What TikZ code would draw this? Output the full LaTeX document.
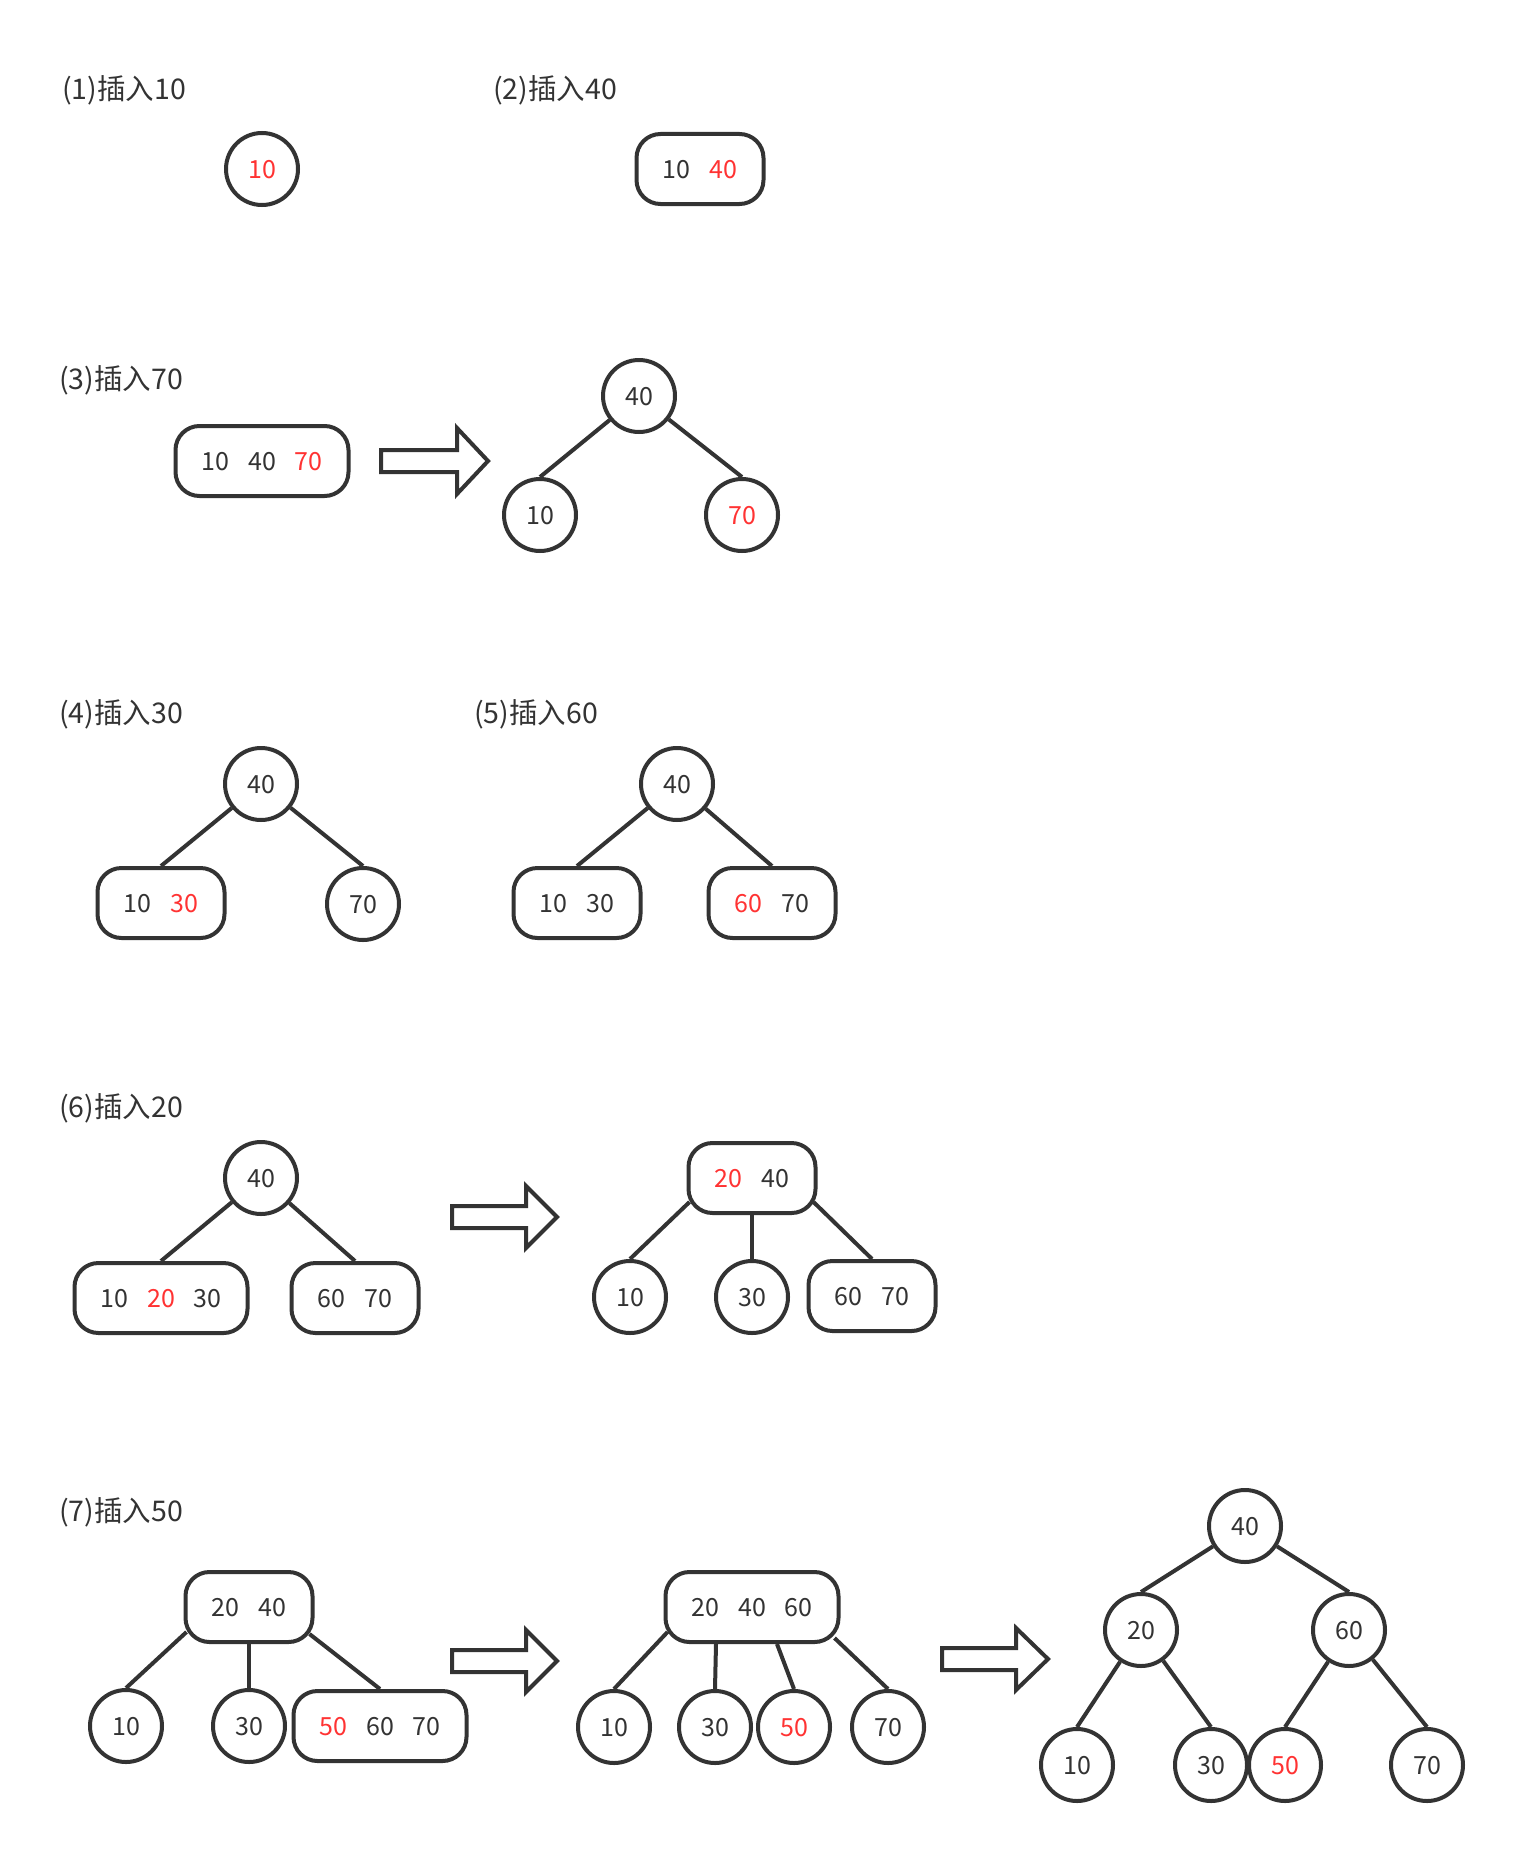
\documentclass[tikz,border=0pt]{standalone}
\usepackage{fontspec}
\setmainfont{Noto Sans CJK SC}
\definecolor{ink}{HTML}{333333}
\definecolor{hot}{HTML}{FF3333}
\newcommand\hv[1]{\textcolor{hot}{#1}}
\newcommand\gp{\hspace{19pt}}
\begin{document}
\begin{tikzpicture}[x=1pt,y=-1pt,
  every node/.style={text=ink, font=\fontsize{25}{25}\selectfont, text height=18pt, text depth=0pt},
  circ/.style={draw=ink, line width=4pt, circle, minimum size=72pt, inner sep=0pt},
  rbox/.style={draw=ink, line width=4pt, rounded corners=24pt, minimum height=70pt, inner sep=0pt},
  w2/.style={minimum width=127pt},
  w3/.style={minimum width=173pt},
  lbl/.style={anchor=west, inner sep=0pt, font=\fontsize{28.5}{28.5}\selectfont, text height=21pt, text depth=0pt},
  edge/.style={draw=ink, line width=4pt},
  bigarrow/.style={draw=ink, line width=4pt, line join=miter}]
\fill[white] (0,0) rectangle (1514,1849);
\useasboundingbox (0,0) rectangle (1514,1849);

% labels
\node[lbl] (l1) at (62,89) {(1)插入10};
\node[lbl] (l2) at (493,89) {(2)插入40};
\node[lbl] (l3) at (59,379) {(3)插入70};
\node[lbl] (l4) at (59,713) {(4)插入30};
\node[lbl] (l5) at (474,713) {(5)插入60};
\node[lbl] (l6) at (59,1107) {(6)插入20};
\node[lbl] (l7) at (59,1511) {(7)插入50};

% (1)
\node[circ] (a1) at (262,169) {\hv{10}};
% (2)
\node[rbox,w2] (b2) at (700,169) {10\gp\hv{40}};

% (3)
\node[rbox,w3] (b3) at (262,461) {10\gp40\gp\hv{70}};
\draw[bigarrow] (381,450) -- (457,450) -- (457,428) -- (488,461) -- (457,494) -- (457,472) -- (381,472) -- cycle;
\node[circ] (r3) at (639,396) {40};
\node[circ] (c3a) at (540,515) {10};
\node[circ] (c3b) at (742,515) {\hv{70}};
\draw[edge] (r3) -- (c3a.north);
\draw[edge] (r3) -- (c3b.north);

% (4)
\node[circ] (r4) at (261,784) {40};
\node[rbox,w2] (b4) at (161,903) {10\gp\hv{30}};
\node[circ] (c4) at (363,904) {70};
\draw[edge] (r4) -- (b4.north);
\draw[edge] (r4) -- (c4.north);

% (5)
\node[circ] (r5) at (677,784) {40};
\node[rbox,w2] (b5a) at (577,903) {10\gp30};
\node[rbox,w2] (b5b) at (772,903) {\hv{60}\gp70};
\draw[edge] (r5) -- (b5a.north);
\draw[edge] (r5) -- (b5b.north);

% (6)
\node[circ] (r6) at (261,1178) {40};
\node[rbox,w3] (b6a) at (161,1298) {10\gp\hv{20}\gp30};
\node[rbox,w2] (b6b) at (355,1298) {60\gp70};
\draw[edge] (r6) -- (b6a.north);
\draw[edge] (r6) -- (b6b.north);
\draw[bigarrow] (452,1206) -- (526,1206) -- (526,1186) -- (557,1217) -- (526,1248) -- (526,1228) -- (452,1228) -- cycle;
\node[rbox,w2] (m6) at (752,1178) {\hv{20}\gp40};
\node[circ] (c6a) at (630,1297) {10};
\node[circ] (c6b) at (752,1297) {30};
\node[rbox,w2] (c6c) at (872,1296) {60\gp70};
\draw[edge] ([xshift=3pt,yshift=13pt]m6.south west) -- (c6a.north);
\draw[edge] (m6.south) -- (c6b.north);
\draw[edge] ([xshift=-4pt,yshift=13pt]m6.south east) -- (c6c.north);

% (7) left
\node[rbox,w2] (r7) at (249,1607) {20\gp40};
\node[circ] (d1) at (126,1726) {10};
\node[circ] (d2) at (249,1726) {30};
\node[rbox,w3] (d3) at (380,1726) {\hv{50}\gp60\gp70};
\draw[edge] ([xshift=3pt,yshift=12pt]r7.south west) -- (d1.north);
\draw[edge] (r7.south) -- (d2.north);
\draw[edge] ([xshift=-5pt,yshift=10pt]r7.south east) -- (d3.north);
\draw[bigarrow] (452,1650) -- (526,1650) -- (526,1630) -- (557,1661) -- (526,1692) -- (526,1672) -- (452,1672) -- cycle;

% (7) middle
\node[rbox,w3] (m7) at (752,1607) {20\gp40\gp60};
\node[circ] (e1) at (614,1727) {10};
\node[circ] (e2) at (715,1727) {30};
\node[circ] (e3) at (794,1727) {\hv{50}};
\node[circ] (e4) at (888,1727) {70};
\draw[edge] ([xshift=4pt,yshift=12pt]m7.south west) -- (e1.north);
\draw[edge] ([xshift=-36pt]m7.south) -- (e2.north);
\draw[edge] ([xshift=25pt]m7.south) -- (e3.north);
\draw[edge] ([xshift=-6pt,yshift=6pt]m7.south east) -- (e4.north);
\draw[bigarrow] (942,1648) -- (1016,1648) -- (1016,1628) -- (1048,1659) -- (1016,1690) -- (1016,1670) -- (942,1670) -- cycle;

% (7) right
\node[circ] (f0) at (1245,1526) {40};
\node[circ] (f1) at (1141,1630) {20};
\node[circ] (f2) at (1349,1630) {60};
\node[circ] (g1) at (1077,1765) {10};
\node[circ] (g2) at (1211,1765) {30};
\node[circ] (g3) at (1285,1765) {\hv{50}};
\node[circ] (g4) at (1427,1765) {70};
\draw[edge] (f0) -- (f1.north);
\draw[edge] (f0) -- (f2.north);
\draw[edge] (f1) -- (g1.north);
\draw[edge] (f1) -- (g2.north);
\draw[edge] (f2) -- (g3.north);
\draw[edge] (f2) -- (g4.north);
\end{tikzpicture}
\end{document}
